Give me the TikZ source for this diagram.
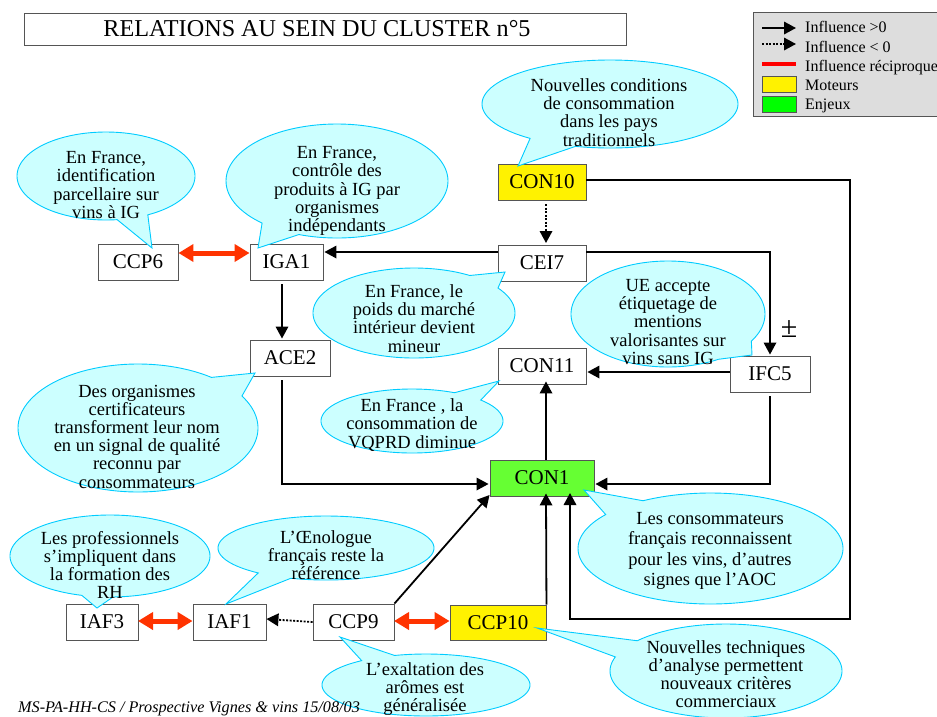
\documentclass[tikz,border=0pt]{standalone}
\usepackage{fontspec}
\setmainfont{Liberation Serif}
\usetikzlibrary{arrows.meta,calc}
\definecolor{bubfill}{HTML}{CCFFFF}
\definecolor{bubline}{HTML}{00CCFF}
\definecolor{boxline}{HTML}{555555}
\definecolor{redarrow}{HTML}{FF3300}
\definecolor{enjeu}{HTML}{66FF33}
\definecolor{leggray}{HTML}{DDDDDD}
\tikzset{
  boxn/.style={draw=boxline,line width=0.9pt,fill=white,inner sep=0pt,font=\fontsize{21}{21}\selectfont,minimum height=36},
  bubtext/.style={align=center,inner sep=0pt,font=\fontsize{18.5}{18.2}\selectfont},
  bubshape/.style={draw=bubline,fill=bubfill,line width=0.9pt,line join=miter},
  arr/.style={line width=1.8pt,-{Triangle[length=12pt,width=12.5pt]}},
  dotarr/.style={arr,dash pattern=on 2pt off 1.5pt},
  recip/.style={redarrow,line width=5pt,{Triangle[length=15pt,width=17pt]}-{Triangle[length=15pt,width=17pt]}},
  legtext/.style={anchor=base west,inner sep=0pt,font=\fontsize{16}{16}\selectfont},
}
% cx cy rx ry  ax ay  bx by  tipx tipy
\newcommand{\bubble}[8]{%
  \pgfmathsetmacro{\angA}{atan2((#6-#2)/#4,(#5-#1)/#3)}%
  \pgfmathsetmacro{\angB}{atan2((#8-#2)/#4,(#7-#1)/#3)}%
  \pgfmathsetmacro{\angD}{mod(\angB-\angA+720,360)}%
  \pgfmathsetmacro{\angE}{\angD<180?\angA+\angD-360:\angA+\angD}%
  \bubbletip{#1}{#2}{#3}{#4}}
\newcommand{\bubbletip}[6]{%
  \draw[bubshape] plot[domain=\angA:\angE,samples=120,smooth] ({#1+#3*cos(\x)},{#2+#4*sin(\x)}) -- (#5,#6) -- cycle;}
\begin{document}
\begin{tikzpicture}[x=1pt,y=-1pt]
\useasboundingbox (0,0) rectangle (937,716);
\clip (0,0) rectangle (937,716);
\fill[white] (0,0) rectangle (937,716);

% title
\node[boxn,minimum width=602,minimum height=32,font=\fontsize{24.2}{24}\selectfont] (title) at (325,29) {\kern-16pt RELATIONS AU SEIN DU CLUSTER n°5};

% legend
\node[draw=boxline,fill=leggray,line width=0.9pt,minimum width=190,minimum height=104,inner sep=0pt] (legend) at (848,64) {};
\node[legtext] (l1) at (805,32) {Influence >0};
\node[legtext] (l2) at (805,52) {Influence < 0};
\node[legtext] (l3) at (805,71) {Influence réciproque};
\node[legtext] (l4) at (805,90) {Moteurs};
\node[legtext] (l5) at (805,109) {Enjeux};
\coordinate (l1a) at (762,28); \coordinate (l1b) at (796,28);
\coordinate (l2a) at (762,44); \coordinate (l2b) at (796,44);
\coordinate (l3a) at (762,64); \coordinate (l3b) at (796,64);
\draw[arr] (l1a) -- (l1b);
\draw[dotarr] (l2a) -- (l2b);
\draw[red,line width=4pt] (l3a) -- (l3b);
\node[draw=boxline,fill=yellow,line width=0.9pt,minimum width=34,minimum height=16,inner sep=0pt] (ly) at (779,84) {};
\node[draw=boxline,fill=green,line width=0.9pt,minimum width=34,minimum height=16,inner sep=0pt] (lg) at (779,104.5) {};

% boxes
\node[boxn,fill=yellow,minimum width=88] (con10) at (542,182) {CON10};
\node[boxn,minimum width=88] (cei7) at (542,263) {CEI7};
\node[boxn,minimum width=80] (ccp6) at (138,262) {CCP6};
\node[boxn,minimum width=73] (iga1) at (286.5,262) {IGA1};
\node[boxn,minimum width=80] (ace2) at (290,358) {ACE2};
\node[boxn,minimum width=88] (con11) at (542,366) {CON11};
\node[boxn,minimum width=80] (ifc5) at (770,374) {IFC5};
\node[boxn,fill=enjeu,minimum width=104] (con1) at (542,478) {CON1};
\node[boxn,fill=yellow,minimum width=96,minimum height=35] (ccp10) at (498,622.5) {CCP10};
\node[boxn,minimum width=72] (iaf3) at (102,622) {IAF3};
\node[boxn,minimum width=73] (iaf1) at (229.5,622) {IAF1};
\node[boxn,minimum width=81] (ccp9) at (353.5,622) {CCP9};

% connectors
\coordinate (r1) at (850,180);
\coordinate (r2) at (850,619);
\coordinate (r3) at (570,619);
\coordinate (r4) at (570,493);
\draw[arr,line join=miter] ($(con10.east)+(0,-2)$) -- (r1) -- (r2) -- (r3) -- (r4);
\coordinate (c10a) at (546,204);
\coordinate (c10b) at (546,243);
\draw[dotarr] (c10a) -- (c10b);
\draw[arr] ($(cei7.west)+(0,-11)$) -- ($(iga1.east)+(1,-10)$);
\coordinate (q1) at (770,252);
\draw[arr,line join=miter] ($(cei7.east)+(0,-11)$) -- (q1) -- ($(ifc5.north)+(0,-1)$);
\draw[arr] ($(iga1.south)+(-4.5,4)$) -- ($(ace2.north)+(-8,-1)$);
\coordinate (a1) at (282,484);
\draw[arr,line join=miter] ($(ace2.south)+(-8,4)$) -- (a1) -- ($(con1.west)+(-1,6)$);
\draw[arr] ($(ifc5.west)+(0,-2)$) -- ($(con11.east)+(1,6)$);
\coordinate (i1) at (770,484);
\draw[arr,line join=miter] ($(ifc5.south)+(0,4)$) -- (i1) -- ($(con1.east)+(1,6)$);
\draw[arr] ($(con1.north)+(4,0)$) -- ($(con11.south)+(4,-3)$);
\draw[arr] ($(ccp10.north east)$) -- ($(con1.south)+(4,-3)$);
\draw[arr] (ccp9.north east) -- ($(con1.west)+(0,17)$);
\draw[dotarr] (ccp9.west) -- ($(iaf1.east)+(0,-3)$);
\draw[recip] (ccp6.east|-ccp6.center) ++(0,-9) -- ($(iga1.west)+(0,-9)$);
\draw[recip] (iaf3) ++(36,-1) -- ($(iaf1.west)+(0,-1)$);
\draw[recip] (ccp9) ++(40.5,-1) -- ($(ccp10.west)+(0,-1.5)$);

% callouts
\bubble{610}{104}{128}{44}{531}{138}{575}{147}{518}{166}
\node[bubtext] (t1) at (609,112.5) {Nouvelles conditions\\de consommation\\dans les pays\\traditionnels};
\bubble{106}{176}{89}{44}{117}{219}{148}{215}{152}{248}
\node[bubtext] (t2) at (106,185) {En France,\\identification\\parcellaire sur\\vins à IG};
\bubble{337}{181}{111}{57}{264}{222}{300}{233}{258}{248}
\node[bubtext] (t3) at (337,191) {En France,\\contrôle des\\produits à IG par\\organismes\\indépendants};
\bubble{414}{313}{101}{45}{469}{276}{498}{288}{505}{272}
\node[bubtext] (t4) at (414,318.5) {En France, le\\poids du marché\\intérieur devient\\mineur};
\bubble{668}{314}{97}{53}{751}{341}{717}{358}{752}{355}
\node[bubtext] (t5) at (668,322) {UE accepte\\étiquetage de\\mentions\\valorisantes sur\\vins sans IG};
\bubble{412}{421}{91}{32}{460}{389}{494}{396}{499}{381}
\node[bubtext] (t6) at (412,425) {En France , la\\consommation de\\VQPRD diminue};
\bubble{138}{428}{120}{64}{212}{377}{242}{396}{255}{373}
\node[bubtext] (t7) at (137,436.5) {Des organismes\\certificateurs\\transforment leur nom\\en un signal de qualité\\reconnu par\\consommateurs};
\bubble{710.5}{548.5}{132.5}{55.5}{604}{514}{642}{500}{584}{490}
\node[bubtext,font=\fontsize{18.5}{20.3}\selectfont] (t8) at (710,551) {Les consommateurs\\français reconnaissent\\pour les vins, d’autres\\signes que l’AOC};
\bubble{726}{671}{116}{47}{616}{657}{638}{641}{537}{628}
\node[bubtext] (t9) at (726,674) {Nouvelles techniques\\d’analyse permettent\\nouveaux critères\\commerciaux};
\bubble{110}{556}{100}{41}{82}{595}{113}{597}{97}{608}
\node[bubtext] (t10) at (110,565) {Les professionnels\\s’impliquent dans\\la formation des\\RH};
\bubble{326}{548}{108}{32}{258}{573}{290}{579}{226}{604}
\node[bubtext] (t11) at (326,555) {L’Œnologue\\français reste la\\référence};
\bubble{426}{685}{104}{31}{360}{660}{393}{654}{340}{637}
\node[bubtext] (t12) at (425,689) {L’exaltation des\\arômes est\\généralisée};

\node[inner sep=0pt,font=\fontsize{30}{30}\selectfont] (pm) at (789,329) {±};

% footer
\node[anchor=base west,inner sep=0pt,font=\fontsize{16.2}{16}\selectfont\itshape] (footer) at (18,712) {MS-PA-HH-CS / Prospective Vignes \& vins 15/08/03};
\end{tikzpicture}
\end{document}
